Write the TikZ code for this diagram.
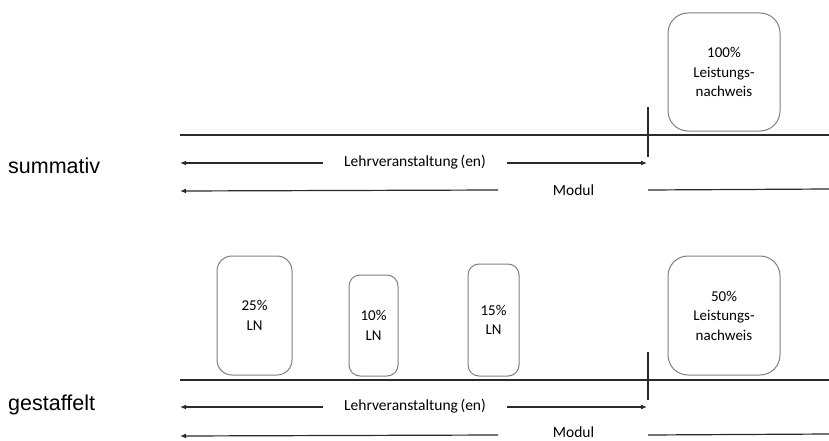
\documentclass[tikz,border=0pt]{standalone}
\usepackage{fontspec}
\setmainfont{Carlito}
\newfontfamily\arialfont{Liberation Sans}
\usetikzlibrary{arrows.meta}
\definecolor{linec}{HTML}{2A2A2A}
\definecolor{boxc}{HTML}{7F7F7F}
\tikzset{
  lnbox/.style={draw=boxc, line width=1pt, rounded corners=#1, align=center,
    font=\fontsize{15}{19.5}\selectfont, inner sep=0pt},
  rowlabel/.style={anchor=west, font=\arialfont\fontsize{21.5}{24}\selectfont, inner sep=0pt},
  midlabel/.style={font=\fontsize{15.5}{18}\selectfont, inner sep=0pt},
  baseline/.style={draw=linec, line width=1.2pt},
  arr/.style={draw=linec, line width=1.2pt, -{Latex[length=6pt,width=5pt]}},
}
\begin{document}
\begin{tikzpicture}[x=1pt,y=-1pt]
\useasboundingbox (0,0) rectangle (829,441);

% ---------- summativ ----------
\node[rowlabel] (sumL) at (8,166) {summativ};
\node[lnbox=20pt, minimum width=112pt, minimum height=118pt] (b100) at (724,72)
  {100\%\\Leistungs-\\nachweis};
\coordinate (t1a) at (180,135);
\coordinate (t1b) at (829,135);
\draw[baseline] (t1a) -- (t1b);
\coordinate (tick1a) at (648,107);
\coordinate (tick1b) at (648,157);
\draw[baseline] (tick1a) -- (tick1b);

\node[midlabel] (lv1) at (415,162) {Lehrveranstaltung\,(en)};
\coordinate (lv1l) at (323,163);
\coordinate (lv1le) at (180,163);
\coordinate (lv1r) at (507,163);
\coordinate (lv1re) at (647,163);
\draw[arr] (lv1l) -- (lv1le);
\draw[arr] (lv1r) -- (lv1re);

\node[midlabel] (mo1) at (573.5,190) {Modul};
\coordinate (mo1l) at (498,190);
\coordinate (mo1le) at (180,191);
\coordinate (mo1r) at (648,190);
\coordinate (mo1re) at (829,189);
\draw[arr] (mo1l) -- (mo1le);
\draw[baseline] (mo1r) -- (mo1re);

% ---------- gestaffelt ----------
\node[rowlabel] (gesL) at (8,405) {gestaffelt};
\node[lnbox=15pt, minimum width=75pt, minimum height=119pt] (b25) at (254.5,315.5) {25\%\\LN};
\node[lnbox=11pt, minimum width=49pt, minimum height=101pt] (b10) at (373.5,325.5) {10\%\\LN};
\node[lnbox=11pt, minimum width=51pt, minimum height=112pt] (b15) at (493.5,320) {15\%\\LN};
\node[lnbox=20pt, minimum width=112pt, minimum height=119pt] (b50) at (724,315.5)
  {50\%\\Leistungs-\\nachweis};
\coordinate (t2a) at (180,380);
\coordinate (t2b) at (829,380);
\draw[baseline] (t2a) -- (t2b);
\coordinate (tick2a) at (648,352);
\coordinate (tick2b) at (648,400);
\draw[baseline] (tick2a) -- (tick2b);

\node[midlabel] (lv2) at (415,406) {Lehrveranstaltung\,(en)};
\coordinate (lv2l) at (323,407);
\coordinate (lv2le) at (180,407);
\coordinate (lv2r) at (507,407);
\coordinate (lv2re) at (647,407);
\draw[arr] (lv2l) -- (lv2le);
\draw[arr] (lv2r) -- (lv2re);

\node[midlabel] (mo2) at (573.5,432) {Modul};
\coordinate (mo2l) at (498,435);
\coordinate (mo2le) at (180,436);
\coordinate (mo2r) at (648,435);
\coordinate (mo2re) at (829,434);
\draw[arr] (mo2l) -- (mo2le);
\draw[baseline] (mo2r) -- (mo2re);
\end{tikzpicture}
\end{document}
